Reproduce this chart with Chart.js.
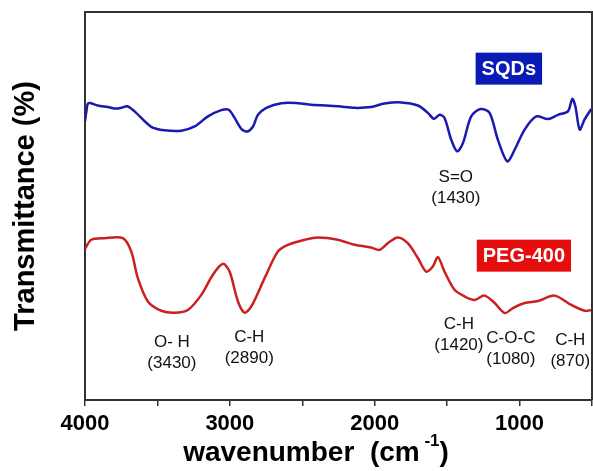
<!DOCTYPE html>
<html>
<head>
<meta charset="utf-8">
<script src="https://cdn.jsdelivr.net/npm/chart.js@4.4.1/dist/chart.umd.min.js"></script>
<style>
  body { margin: 0; background: #fff; }
  #wrap { width: 593px; height: 471px; }
</style>
</head>
<body>
<div id="wrap"><canvas id="ftirChart" width="593" height="471"></canvas></div>
<script>
// SQDs spectrum (wavenumber, transmittance in arbitrary %)
const sqdWavenumbers = [4000, 3990, 3976, 3912, 3842, 3784, 3750, 3708, 3658, 3543, 3451, 3335, 3243, 3151, 3059, 3008,
    2967, 2921, 2879, 2840, 2806, 2748, 2644, 2530, 2437, 2253, 2140, 2025, 1933, 1818, 1702, 1633, 1592, 1552,
    1518, 1472, 1431, 1391, 1334, 1269, 1207, 1150, 1085, 1034, 965, 885, 804, 735, 666, 636, 615, 585, 551, 505];
const sqdTransmittance = [71.8, 74.5, 76.5, 75.9, 75.5, 75.1, 75.3, 75.7, 74.4, 70.4, 69.5, 69.4, 70.5, 73.1, 74.7, 74.8,
    72.7, 69.9, 69.2, 70.5, 73.5, 75.3, 76.5, 76.5, 76.1, 75.7, 75.3, 75.5, 76.4, 76.7, 75.9, 74.0, 72.5, 73.5,
    72.7, 67.1, 64.1, 66.2, 73.1, 75.0, 74.0, 67.1, 61.5, 64.5, 69.7, 73.1, 72.4, 73.5, 74.4, 77.6, 75.7, 69.7, 72.3, 75.0];

// PEG-400 spectrum
const pegWavenumbers = [4000, 3957, 3865, 3739, 3681, 3635, 3566, 3473, 3382, 3290, 3197, 3117, 3048, 3002, 2944, 2898,
    2852, 2760, 2668, 2599, 2483, 2391, 2255, 2140, 2025, 1967, 1910, 1841, 1772, 1702, 1645, 1599, 1564, 1518,
    1449, 1380, 1311, 1242, 1172, 1103, 1046, 965, 873, 758, 643, 551, 500];
const pegTransmittance = [39.0, 41.3, 41.7, 41.7, 38.3, 31.4, 25.4, 23.0, 22.5, 23.2, 27.1, 32.3, 35.1, 33.1, 25.4, 22.5,
    24.1, 31.4, 38.3, 40.0, 41.3, 41.9, 41.3, 40.0, 39.3, 38.7, 40.4, 41.9, 40.4, 36.6, 33.1, 34.4, 36.8, 33.1,
    28.4, 26.7, 25.8, 26.9, 25.0, 22.4, 23.7, 25.0, 25.5, 26.9, 24.5, 23.0, 23.2];

const xTicks = [4000, 3000, 2000, 1000];

// peak assignments: text lines, wavenumber, level of the first line
const peakLabels = [['O- H', '(3430)'], ['C-H', '(2890)'], ['C-H', '(1420)'], ['C-O-C', '(1080)'], ['C-H', '(870)'], ['S=O', '(1430)']];
const peakLabelX = [3400, 2866, 1419, 1060, 650, 1440];
const peakLabelY = [14.8, 16.1, 19.4, 16.0, 15.5, 57.5];

// sample name tags
const seriesNames = ['SQDs', 'PEG-400'];
const tagX = [1074, 970];
const tagY = [85.4, 37.2];
const tagColors = ['#0a1ab4', '#e60d0d'];

function toPoints(xs, ys) {
    return xs.map((x, i) => ({ x: x, y: ys[i] }));
}

const FONT = '"Liberation Sans", Arial, sans-serif';

const framePlugin = {
    id: 'frame',
    afterDraw(chart) {
        const { ctx, chartArea: a, scales } = chart;
        ctx.save();
        ctx.strokeStyle = '#333';
        ctx.lineWidth = 2;
        ctx.beginPath();
        ctx.moveTo(a.left, a.top);
        ctx.lineTo(a.right, a.top);
        ctx.lineTo(a.right, a.bottom);
        ctx.stroke();

        // peak labels
        ctx.fillStyle = '#111';
        ctx.font = '17px ' + FONT;
        ctx.textAlign = 'center';
        ctx.textBaseline = 'middle';
        peakLabels.forEach((lines, i) => {
            const px = scales.x.getPixelForValue(peakLabelX[i]);
            const py = scales.y.getPixelForValue(peakLabelY[i]);
            lines.forEach((t, j) => ctx.fillText(t, px, py + j * 21));
        });

        // name tags
        ctx.font = 'bold 20px ' + FONT;
        seriesNames.forEach((name, i) => {
            const px = scales.x.getPixelForValue(tagX[i]);
            const py = scales.y.getPixelForValue(tagY[i]);
            const w = ctx.measureText(name).width + 12;
            ctx.fillStyle = tagColors[i];
            ctx.fillRect(px - w / 2, py - 16, w, 32);
            ctx.fillStyle = '#fff';
            ctx.fillText(name, px, py + 1);
        });

        // x axis title with superscript
        const cx = 316;
        const ty = 453;
        const main = 'wavenumber  (cm';
        ctx.font = 'bold 28px ' + FONT;
        const w1 = ctx.measureText(main).width;
        ctx.font = 'bold 17px ' + FONT;
        const w2 = ctx.measureText(' -1').width;
        ctx.font = 'bold 28px ' + FONT;
        const w3 = ctx.measureText(')').width;
        const sx = cx - (w1 + w2 + w3) / 2;
        ctx.fillStyle = '#000';
        ctx.textAlign = 'left';
        ctx.fillText(main, sx, ty);
        ctx.font = 'bold 17px ' + FONT;
        ctx.fillText(' -1', sx + w1, ty - 12);
        ctx.font = 'bold 28px ' + FONT;
        ctx.fillText(')', sx + w1 + w2, ty);
        ctx.restore();
    }
};

const ctx = document.getElementById('ftirChart').getContext('2d');
new Chart(ctx, {
    type: 'line',
    data: {
        datasets: [
            {
                label: 'SQDs',
                data: toPoints(sqdWavenumbers, sqdTransmittance),
                borderColor: '#1a1ab0',
                borderWidth: 2.5,
                pointRadius: 0,
                tension: 0.3,
                fill: false
            },
            {
                label: 'PEG-400',
                data: toPoints(pegWavenumbers, pegTransmittance),
                borderColor: '#cc1f1f',
                borderWidth: 2.5,
                pointRadius: 0,
                tension: 0.3,
                fill: false
            }
        ]
    },
    options: {
        responsive: false,
        animation: false,
        layout: { padding: { top: 12, right: 1, left: 0, bottom: 0 } },
        plugins: {
            legend: { display: false },
            tooltip: { enabled: false }
        },
        scales: {
            x: {
                type: 'linear',
                reverse: true,
                min: 500,
                max: 4000,
                afterFit(scale) {
                    scale.height = 71;
                    scale.paddingRight = 0;
                },
                afterBuildTicks(scale) {
                    scale.ticks = [4000, 3500, 3000, 2500, 2000, 1500, 1000, 500].map(v => ({ value: v }));
                },
                ticks: {
                    color: '#000',
                    padding: 5,
                    maxRotation: 0,
                    autoSkip: false,
                    font: { family: FONT, size: 22, weight: 'bold' },
                    callback: (v) => xTicks.includes(v) ? String(v) : ''
                },
                grid: { drawOnChartArea: false, drawTicks: true, tickLength: 6, color: '#333', lineWidth: 1.5 },
                border: { display: true, color: '#333', width: 2 }
            },
            y: {
                min: 0,
                max: 100,
                afterFit(scale) { scale.width = 85; },
                ticks: { display: false },
                grid: { display: false },
                border: { display: true, color: '#333', width: 2 },
                title: {
                    display: true,
                    text: 'Transmittance (%)',
                    color: '#000',
                    padding: { top: 9, bottom: 0 },
                    font: { family: FONT, size: 29, weight: 'bold' }
                }
            }
        }
    },
    plugins: [framePlugin]
});
</script>
</body>
</html>
